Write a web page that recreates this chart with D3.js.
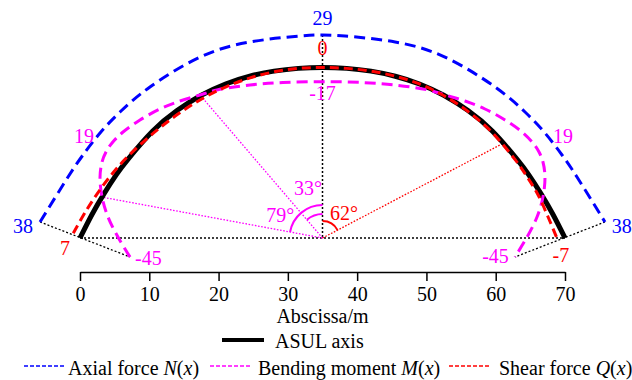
<!DOCTYPE html>
<html>
<head>
<meta charset="utf-8">
<script src="https://cdn.jsdelivr.net/npm/d3@7"></script>
<style>
  html, body { margin: 0; padding: 0; background: #fff; }
  text { font-family: "Liberation Serif", "Times New Roman", serif; }
</style>
</head>
<body>
<script>
// ---------- data (metres) ----------
const xTicks = [0, 10, 20, 30, 40, 50, 60, 70];

// ASUL axis (arch centre line)
const archX = [0, 1.75, 3.5, 5.25, 7, 10.5, 14, 17.5, 21, 24.5, 28, 31.5, 35, 38.5, 42, 45.5, 49, 52.5, 56, 59.5, 63, 64.75, 66.5, 68.25, 70];
const archY = [0, 3.43, 6.45, 9.14, 11.45, 15.44, 18.39, 20.60, 22.23, 23.35, 24.08, 24.48, 24.60, 24.48, 24.08, 23.35, 22.23, 20.60, 18.39, 15.44, 11.45, 9.14, 6.45, 3.43, 0];

// Axial force N(x) diagram outline
const axialX = [-5.77, -1.73, 0.43, 2.89, 5.77, 10.10, 17.32, 24.53, 31.75, 35, 38.25, 45.47, 52.68, 59.9, 64.23, 67.11, 69.57, 71.73, 75.77];
const axialY = [2.31, 8.80, 11.98, 15.15, 18.18, 21.80, 26.10, 28.29, 29.15, 29.30, 29.15, 28.29, 26.10, 21.80, 18.18, 15.15, 11.98, 8.80, 2.31];

// Bending moment M(x) diagram outline
const momentX = [7.22, 5.48, 4.04, 3.18, 2.89, 3.18, 3.75, 4.62, 6.21, 8.66, 11.55, 14.43, 17.32, 19.77, 24.53, 29.29, 35,
                 40.71, 45.47, 50.23, 52.68, 55.57, 58.45, 61.34, 63.79, 65.38, 66.25, 66.82, 67.11, 66.82, 65.96, 64.52, 62.78];
const momentY = [-2.74, 0.14, 3.03, 5.92, 8.80, 10.97, 12.41, 13.71, 15.30, 17.03, 18.62, 19.77, 20.64, 21.36, 22.08, 22.44, 22.56,
                 22.44, 22.08, 21.36, 20.64, 19.77, 18.62, 17.03, 15.30, 13.71, 12.41, 10.97, 8.80, 5.92, 3.03, 0.14, -2.74];

// Shear force Q(x) diagram outline
const shearX = [-0.97, 0.88, 2.83, 4.80, 6.76, 10.71, 14.3, 17.75, 21.16, 24.56, 28.01, 31.5, 35, 38.5, 42, 45.5, 49, 52.48, 55.94, 59.39, 62.8, 64.46, 66.12, 67.56, 68.8];
const shearY = [0.68, 3.93, 6.88, 9.45, 11.63, 15.23, 17.99, 20.17, 21.86, 23.11, 23.98, 24.48, 24.60, 24.48, 24.08, 23.35, 22.23, 20.56, 18.31, 15.33, 11.30, 8.94, 6.21, 3.03, 0.07];

// zero points of M and Q on the axis, and the centre
const centre = [35, 0];
const momentZeroX = [3.18, 17.32];
const momentZeroY = [5.90, 20.64];
const shearZeroX = [61.09];
const shearZeroY = [13.67];

// value labels: text, x, y
const axialLabels = [["29", 35, 30.74], ["38", -8.23, 0.72], ["38", 78.2, 0.72]];
const momentLabels = [["-17", 35, 19.9], ["19", 0.58, 13.71], ["19", 69.7, 13.71]];
const shearLabels = [["0", 35, 26.4], ["7", -2.16, -2.45], ["-7", 69.4, -3.46]];
const momentEndLabels = [["-45", 7.94, -3.9, "start"], ["-45", 61.9, -3.6, "end"]];
const angleLabels = [["79°", 28.9, 2.31, "#ff00ff"], ["33°", 32.9, 6.2, "#ff00ff"], ["62°", 38.1, 2.6, "#ff0000"]];

const legendTop = ["ASUL axis"];
const legendItems = [
  ["Axial force ", "N", "x"],
  ["Bending moment ", "M", "x"],
  ["Shear force ", "Q", "x"]
];

// ---------- drawing ----------
const W = 632, H = 380;
const svg = d3.select("body").append("svg").attr("width", W).attr("height", H);

const x = d3.scaleLinear().domain([0, 70]).range([80, 565]);
const y = d3.scaleLinear().domain([0, 30]).range([238, 238 - 30 * 6.929]);

const zip = (xs, ys) => xs.map((v, i) => [v, ys[i]]);
const smooth = d3.line().x(d => x(d[0])).y(d => y(d[1])).curve(d3.curveNatural);
const cr = d3.line().x(d => x(d[0])).y(d => y(d[1])).curve(d3.curveCatmullRom.alpha(0.5));
const straight = d3.line().x(d => x(d[0])).y(d => y(d[1]));

const BLUE = "#0000ff", MAG = "#ff00ff", RED = "#ff0000";

// dotted reference lines
const dotted = svg.append("g").attr("fill", "none");
dotted.append("path")
  .attr("d", straight([[archX[0], 0], [archX[archX.length - 1], 0]]))
  .attr("stroke", "#000").attr("stroke-width", 1.5).attr("stroke-dasharray", "2,2");
dotted.append("path")
  .attr("d", straight([[35, axialY[9]], centre]))
  .attr("stroke", "#000").attr("stroke-width", 1.5).attr("stroke-dasharray", "2,2");
dotted.append("path")
  .attr("d", straight([[axialX[0], axialY[0]], [momentX[0], momentY[0]]]))
  .attr("stroke", "#000").attr("stroke-width", 1.3).attr("stroke-dasharray", "2,2");
dotted.append("path")
  .attr("d", straight([[axialX[axialX.length - 1], axialY[axialY.length - 1]], [momentX[momentX.length - 1], momentY[momentY.length - 1]]]))
  .attr("stroke", "#000").attr("stroke-width", 1.3).attr("stroke-dasharray", "2,2");
momentZeroX.forEach((mx, i) => {
  dotted.append("path")
    .attr("d", straight([centre, [mx, momentZeroY[i]]]))
    .attr("stroke", MAG).attr("stroke-width", 1.3).attr("stroke-dasharray", "1.6,1.6");
});
shearZeroX.forEach((sx, i) => {
  dotted.append("path")
    .attr("d", straight([centre, [sx, shearZeroY[i]]]))
    .attr("stroke", RED).attr("stroke-width", 1.3).attr("stroke-dasharray", "1.6,1.6");
});

// angle arcs
const cx = x(centre[0]), cy = y(centre[1]);
function angleTo(px, py) { return Math.atan2(y(py) - cy, x(px) - cx); }
function arcPath(r, a0, a1) {
  const p = d3.path();
  p.arc(cx, cy, r, a0, a1, false);
  return p.toString();
}
const up = -Math.PI / 2;
svg.append("path").attr("d", arcPath(33, angleTo(momentZeroX[0], momentZeroY[0]), up))
  .attr("fill", "none").attr("stroke", MAG).attr("stroke-width", 2);
svg.append("path").attr("d", arcPath(24, angleTo(momentZeroX[1], momentZeroY[1]), up))
  .attr("fill", "none").attr("stroke", MAG).attr("stroke-width", 2);
svg.append("path").attr("d", arcPath(17, up, angleTo(shearZeroX[0], shearZeroY[0])))
  .attr("fill", "none").attr("stroke", RED).attr("stroke-width", 2);

// curves
svg.append("path").attr("d", smooth(zip(archX, archY)))
  .attr("fill", "none").attr("stroke", "#000").attr("stroke-width", 5);
svg.append("path").attr("d", smooth(zip(axialX, axialY)))
  .attr("fill", "none").attr("stroke", BLUE).attr("stroke-width", 3).attr("stroke-dasharray", "11,6");
svg.append("path").attr("d", cr(zip(momentX, momentY)))
  .attr("fill", "none").attr("stroke", MAG).attr("stroke-width", 3).attr("stroke-dasharray", "11,6");
svg.append("path").attr("d", cr(zip(shearX, shearY)))
  .attr("fill", "none").attr("stroke", RED).attr("stroke-width", 3).attr("stroke-dasharray", "9,5");

// labels
const FS = 20;
function addLabels(list, color) {
  list.forEach(d => {
    svg.append("text").attr("x", x(d[1])).attr("y", y(d[2]))
      .attr("text-anchor", d[3] || "middle").attr("font-size", FS).attr("fill", color).text(d[0]);
  });
}
addLabels(axialLabels, BLUE);
addLabels(momentLabels, MAG);
addLabels(shearLabels, RED);
addLabels(momentEndLabels, MAG);
angleLabels.forEach(d => {
  svg.append("text").attr("x", x(d[1])).attr("y", y(d[2]))
    .attr("text-anchor", "middle").attr("font-size", FS).attr("fill", d[3]).text(d[0]);
});

// x axis
const axisG = svg.append("g").attr("transform", "translate(0,272)")
  .call(d3.axisBottom(x).tickValues(xTicks).tickSize(9).tickSizeOuter(0).tickPadding(6));
axisG.select(".domain").attr("stroke-width", 1.5);
axisG.selectAll(".tick line").attr("stroke-width", 1.5);
axisG.selectAll(".tick text").attr("font-size", FS)
  .attr("font-family", "'Liberation Serif', 'Times New Roman', serif").attr("fill", "#000");

svg.append("text").attr("x", (x(0) + x(70)) / 2).attr("y", 323)
  .attr("text-anchor", "middle").attr("font-size", FS).text("Abscissa/m");

// legend
svg.append("line").attr("x1", 222).attr("x2", 264).attr("y1", 340).attr("y2", 340)
  .attr("stroke", "#000").attr("stroke-width", 4);
svg.append("text").attr("x", 275).attr("y", 348).attr("font-size", FS).text(legendTop[0]);

const legColors = [BLUE, MAG, RED];
const legX = [24, 210, 449];
const legTextX = [68, 258, 499];
legendItems.forEach((it, i) => {
  svg.append("line").attr("x1", legX[i]).attr("x2", legX[i] + 42).attr("y1", 366).attr("y2", 366)
    .attr("stroke", legColors[i]).attr("stroke-width", 1.5).attr("stroke-dasharray", "4,2");
  const t = svg.append("text").attr("x", legTextX[i]).attr("y", 374.5).attr("font-size", FS);
  t.append("tspan").text(it[0]);
  t.append("tspan").attr("font-style", "italic").text(it[1]);
  t.append("tspan").text("(");
  t.append("tspan").attr("font-style", "italic").text(it[2]);
  t.append("tspan").text(")");
});
</script>
</body>
</html>
